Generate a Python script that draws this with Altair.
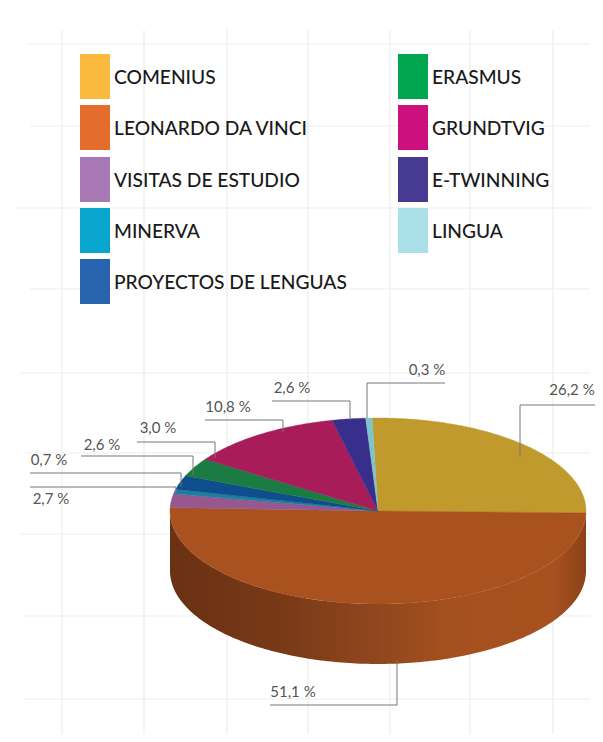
import math
import altair as alt
import pandas as pd

# ---- data ----
names = ["COMENIUS", "LEONARDO DA VINCI", "VISITAS DE ESTUDIO", "MINERVA",
         "PROYECTOS DE LENGUAS", "ERASMUS", "GRUNDTVIG", "E-TWINNING", "LINGUA"]
printed_labels = ["26,2 %", "51,1 %", "2,7 %", "0,7 %", "2,6 %", "3,0 %", "10,8 %", "2,6 %", "0,3 %"]
# share of the ellipse each slice visibly sweeps in the drawing (perspective differs a little from the printed label)
drawn_shares = [25.8, 50.3, 2.4, 0.8, 2.4, 3.2, 12.1, 2.6, 0.5]
slice_colors = ["#C19A2E", "#A9521F", "#96588F", "#1D7EA0", "#0F4E8C", "#1A7C42", "#A81D59", "#382F8C", "#7FC3CB"]
legend_colors = ["#FBBA3D", "#E46C2C", "#A878B5", "#08A6CC", "#2863AE", "#03A650", "#CC117F", "#463A92", "#ACE0E8"]
legend_x = [80, 80, 80, 80, 80, 398, 398, 398, 398]
legend_y = [54, 105, 157, 208, 259, 54, 105, 157, 208]
label_x = [572, 293, 51, 49, 102, 158, 228, 292, 427]
label_y = [390, 692, 499, 460, 445, 428, 407, 388, 370]
# leader lines: bend point, end on the pie, end under the label
lead_bx = [520, 397, 176, 181, 193, 215, 283, 350, 367]
lead_by = [405, 705, 487, 473, 456, 442, 420, 401, 383]
lead_py = [457, 660, 493, 487, 475, 458, 432, 420, 418]
lead_tx = [597, 270, 30, 30, 81, 137, 205, 272, 445]
grid_x = [62, 144, 227, 308, 390, 470, 553]
grid_y = [44, 126, 208, 289, 373, 453, 534, 616, 699]
grid_y_start = [28, 30, 15, 30, 20, 25, 20, 25, 25]

CX, CY, RX, RY, DEPTH = 378, 511, 208, 93, 60
START = -1.6

W, H = 587, 726
xs = alt.Scale(domain=[8, 8 + W], nice=False, zero=False)
ys = alt.Scale(domain=[8 + H, 8], nice=False, zero=False)
X = lambda f="x": alt.X(f + ":Q", scale=xs, axis=None)
Y = lambda f="y": alt.Y(f + ":Q", scale=ys, axis=None)

layers = []

# background grid
grid_v = pd.DataFrame({"x": grid_x, "y": [30] * len(grid_x), "y2": [734] * len(grid_x)})
grid_h = pd.DataFrame({"x": grid_y_start, "x2": [590] * len(grid_y), "y": grid_y})
layers.append(alt.Chart(grid_v).mark_rule(color="#EDEDED", strokeWidth=1.2).encode(x=X(), y=Y(), y2="y2:Q"))
layers.append(alt.Chart(grid_h).mark_rule(color="#EDEDED", strokeWidth=1.2).encode(x=X(), x2="x2:Q", y=Y()))

# side wall of the disc
wall = []
for i in range(0, 181):
    t = math.radians(180 - i)
    wall.append({"x": CX + RX * math.cos(t), "y": CY + RY * math.sin(t),
                 "y2": CY + RY * math.sin(t) + DEPTH})
stops = [(0, "#6A3114"), (0.27, "#783917"), (0.43, "#8A431C"), (0.55, "#96491E"),
         (0.67, "#A5501F"), (0.92, "#A8511F"), (1, "#8C4218")]
layers.append(alt.Chart(pd.DataFrame(wall)).mark_area(
    color=alt.Gradient(gradient="linear", x1=0, x2=1, y1=0, y2=0,
                       stops=[alt.GradientStop(offset=o, color=c) for o, c in stops])
).encode(x=X(), y=Y(), y2="y2:Q"))

# top surface slices
total = sum(drawn_shares)
a0 = START
for name, share, col in zip(names, drawn_shares, slice_colors):
    sweep = share / total * 360
    n = max(2, int(sweep))
    pts = [{"x": CX, "y": CY, "seq": 0}]
    for k in range(n + 1):
        a = math.radians(a0 + sweep * k / n)
        pts.append({"x": CX + RX * math.sin(a), "y": CY - RY * math.cos(a), "seq": k + 1})
    layers.append(alt.Chart(pd.DataFrame(pts)).mark_line(
        interpolate="linear-closed", fill=col, stroke=col, strokeWidth=0.4
    ).encode(x=X(), y=Y(), order="seq:Q"))
    a0 += sweep

# leader lines
seg_v = pd.DataFrame({"x": lead_bx, "y": lead_by, "y2": lead_py})
seg_h = pd.DataFrame({"x": lead_bx, "x2": lead_tx, "y": lead_by})
layers.append(alt.Chart(seg_v).mark_rule(color="#777777", strokeWidth=1).encode(x=X(), y=Y(), y2="y2:Q"))
layers.append(alt.Chart(seg_h).mark_rule(color="#777777", strokeWidth=1).encode(x=X(), x2="x2:Q", y=Y()))

# percentage labels
pct = pd.DataFrame({"x": label_x, "y": label_y, "t": printed_labels})
layers.append(alt.Chart(pct).mark_text(font="Lato", fontSize=15, color="#555555", align="center", baseline="middle")
              .encode(x=X(), y=Y(), text="t:N"))

# legend
leg = pd.DataFrame({"x": legend_x, "y": legend_y, "name": names, "col": legend_colors})
leg["x2"] = leg["x"] + 30
leg["y2"] = leg["y"] + 45
leg["tx"] = leg["x"] + 34
leg["ty"] = leg["y"] + 24
layers.append(alt.Chart(leg).mark_rect().encode(
    x=X(), x2="x2:Q", y=Y(), y2="y2:Q", fill=alt.Fill("col:N", scale=None)))
layers.append(alt.Chart(leg).mark_text(font="Lato", fontSize=19.2, fontWeight=500, color="#1A1A1A",
                                       align="left", baseline="middle")
              .encode(x=X("tx"), y=Y("ty"), text="name:N"))

chart = alt.layer(*layers).properties(
    width=W, height=H, padding=0, autosize=alt.AutoSizeParams(type="none"),
    background="white"
).configure_view(stroke=None)

chart.save("out.html", embed_options={"renderer": "svg", "actions": False})
